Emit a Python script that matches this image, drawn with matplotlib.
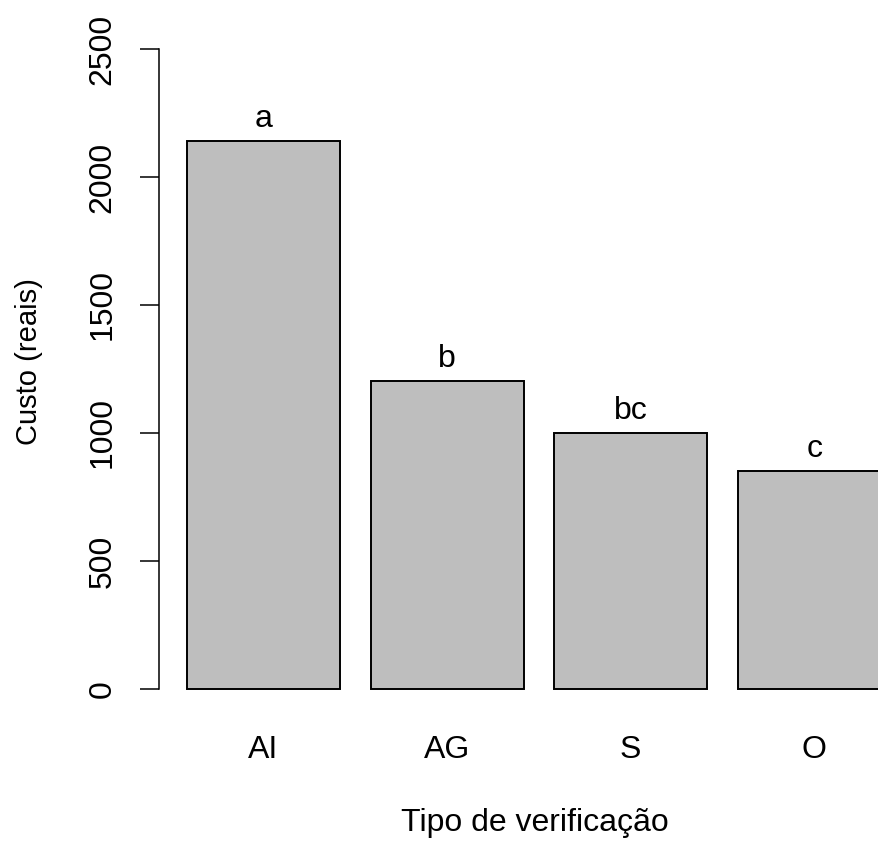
import matplotlib
matplotlib.use("Agg")
import matplotlib.pyplot as plt

plt.rcParams['font.family'] = ['Liberation Sans', 'DejaVu Sans']

# custo medio por tipo de verificacao
tipos = ["AI", "AG", "S", "O"]
custo = [2140, 1203, 1000, 851]
letras = ["a", "b", "bc", "c"]

W, H = 879, 844
fig = plt.figure(figsize=(W / 100, H / 100), dpi=100)

# plot region in pixels (barplot style: 4% padding around the data range)
x0, x1 = 158.9, 918.9
y_top, y_bot = 23.4, 714.6
ax = fig.add_axes([x0 / W, 1 - y_bot / H, (x1 - x0) / W, (y_bot - y_top) / H])

centros = [0.7 + 1.2 * i for i in range(len(tipos))]
ax.bar(centros, custo, width=1.0, color="#bebebe", edgecolor="black", linewidth=1.4)
ax.set_xlim(0.016, 4.984)
ax.set_ylim(-100, 2600)

fs = 23
for xc, v, lt in zip(centros, custo, letras):
    ax.text(xc, v + 55, lt, ha="center", va="baseline", fontsize=fs)

ax.set_xticks(centros)
ax.set_xticklabels(tipos, fontsize=fs)
ax.tick_params(axis="x", length=0, pad=15)

ax.set_yticks([0, 500, 1000, 1500, 2000, 2500])
ax.tick_params(axis="y", length=13.7, width=1.1, pad=16, labelsize=fs)
plt.setp(ax.get_yticklabels(), rotation=90, va="center")

for s in ["top", "right", "bottom"]:
    ax.spines[s].set_visible(False)
ax.spines["left"].set_bounds(0, 2500)
ax.spines["left"].set_linewidth(1.1)

fig.text(535 / W, 1 - 823 / H, "Tipo de verificação", ha="center", va="center", fontsize=fs)
fig.text(29 / W, 1 - 362 / H, "Custo (reais)", ha="center", va="center",
         rotation=90, fontsize=21)

fig.savefig("out.png", dpi=100)
